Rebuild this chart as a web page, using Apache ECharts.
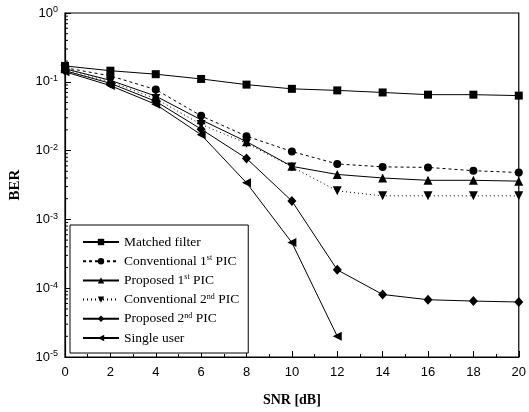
<!DOCTYPE html>
<html>
<head>
<meta charset="utf-8">
<script src="https://cdn.jsdelivr.net/npm/echarts@6/dist/echarts.min.js"></script>
<style>
  html, body { margin: 0; padding: 0; background: #fff; }
  #chart { width: 529px; height: 412px; }
</style>
</head>
<body>
<div id="chart"></div>
<script>
// SNR points (dB)
const snr = [0, 2, 4, 6, 8, 10, 12, 14, 16, 18, 20]

// BER
const matchedFilter = [0.17, 0.145, 0.129, 0.11, 0.091, 0.079, 0.075, 0.070, 0.065, 0.065, 0.063]
const conv1st = [0.16, 0.122, 0.077, 0.032, 0.0162, 0.0097, 0.0064, 0.0058, 0.0057, 0.0051, 0.0048]
const prop1st = [0.155, 0.105, 0.062, 0.028, 0.0135, 0.0059, 0.0045, 0.0040, 0.0037, 0.0037, 0.0036]
const conv2nd = [0.15, 0.10, 0.057, 0.024, 0.0128, 0.0058, 0.0026, 0.0022, 0.0022, 0.0022, 0.0022]
const prop2nd = [0.145, 0.095, 0.052, 0.0205, 0.0077, 0.00185, 0.000185, 0.000081, 0.000068, 0.000065, 0.000063]
const singleUser = [0.14, 0.088, 0.047, 0.017, 0.0034, 0.00046, 0.00002]

const names = [
  'Matched filter',
  'Conventional 1st PIC',
  'Proposed 1st PIC',
  'Conventional 2nd PIC',
  'Proposed 2nd PIC',
  'Single user'
]

// log minor ticks: 2..9 x 10^n
const decades = [-5, -4, -3, -2, -1]
const minorMul = [2, 3, 4, 5, 6, 7, 8, 9]

const pairs = arr => arr.map((v, i) => [snr[i], v])

const minorTicks = []
decades.forEach(d => minorMul.forEach(m => minorTicks.push(m * Math.pow(10, d))))

const serif = 'Liberation Serif'
const sans = 'Liberation Sans'

function legendName(name) {
  return name.replace(/1st/, '1{sup|st}').replace(/2nd/, '2{sup|nd}')
}

const lineBase = { color: '#000', width: 1 }

const option = {
  animation: false,
  backgroundColor: '#fff',
  grid: {
    left: 63, right: 8, top: 13, bottom: 53,
    show: true, borderColor: '#000', borderWidth: 1.2
  },
  legend: {
    orient: 'vertical',
    left: 70, top: 225,
    padding: [10, 9, 8, 12],
    itemGap: 5.2,
    itemWidth: 36,
    itemHeight: 8,
    backgroundColor: '#fff',
    borderColor: '#000',
    borderWidth: 1,
    borderRadius: 0,
    data: names,
    formatter: legendName,
    textStyle: {
      fontFamily: serif, fontSize: 13.5, color: '#000', lineHeight: 14,
      rich: {
        sup: { fontFamily: serif, fontSize: 8, color: '#000', verticalAlign: 'top', padding: [0, 0, 6, 0] }
      }
    }
  },
  xAxis: {
    type: 'value',
    min: 0, max: 20, interval: 2,
    name: 'SNR [dB]',
    nameLocation: 'middle',
    nameGap: 36,
    nameTextStyle: { fontFamily: serif, fontWeight: 'bold', fontSize: 14, color: '#000' },
    axisLine: { lineStyle: { color: '#000', width: 1.2 } },
    axisTick: { inside: true, length: 6, lineStyle: { color: '#000' } },
    minorTick: { show: true, splitNumber: 2, length: 3, lineStyle: { color: '#000' } },
    axisLabel: { fontFamily: sans, fontSize: 13, color: '#000', margin: 9 },
    splitLine: { show: false }
  },
  yAxis: {
    type: 'log',
    logBase: 10,
    min: 1e-5, max: 1,
    name: 'BER',
    nameLocation: 'middle',
    nameGap: 42,
    nameRotate: 90,
    nameTextStyle: { fontFamily: serif, fontWeight: 'bold', fontSize: 15, color: '#000' },
    axisLine: { lineStyle: { color: '#000', width: 1.2 } },
    axisTick: { inside: true, length: 6, lineStyle: { color: '#000' } },
    axisLabel: {
      fontFamily: sans, fontSize: 13, color: '#000', margin: 7,
      formatter: v => '10{sup|' + Math.round(Math.log10(v)) + '}',
      rich: {
        sup: { fontFamily: sans, fontSize: 9, color: '#000', verticalAlign: 'top', padding: [0, 0, 6, 0] }
      }
    },
    splitLine: { show: false }
  },
  series: [
    {
      name: names[0], type: 'line', data: pairs(matchedFilter),
      symbol: 'rect', symbolSize: 8,
      lineStyle: lineBase, itemStyle: { color: '#000' }
    },
    {
      name: names[1], type: 'line', data: pairs(conv1st),
      symbol: 'circle', symbolSize: 8,
      lineStyle: Object.assign({}, lineBase, { type: [3, 3] }), itemStyle: { color: '#000' }
    },
    {
      name: names[2], type: 'line', data: pairs(prop1st),
      symbol: 'triangle', symbolSize: 9,
      lineStyle: lineBase, itemStyle: { color: '#000' }
    },
    {
      name: names[3], type: 'line', data: pairs(conv2nd),
      symbol: 'triangle', symbolSize: 9, symbolRotate: 180,
      lineStyle: Object.assign({}, lineBase, { type: [1, 3] }), itemStyle: { color: '#000' }
    },
    {
      name: names[4], type: 'line', data: pairs(prop2nd),
      symbol: 'diamond', symbolSize: [9, 10],
      lineStyle: lineBase, itemStyle: { color: '#000' }
    },
    {
      name: names[5], type: 'line', data: pairs(singleUser),
      symbol: 'triangle', symbolSize: 9, symbolRotate: 90,
      lineStyle: lineBase, itemStyle: { color: '#000' }
    },
    {
      // minor ticks of the log axis, placed via the axis scale
      type: 'custom',
      silent: true,
      data: minorTicks.map(v => [0, v]),
      renderItem: (params, api) => {
        const p = api.coord([0, api.value(1)])
        return {
          type: 'line',
          shape: { x1: p[0], y1: p[1], x2: p[0] + 3, y2: p[1] },
          style: { stroke: '#000', lineWidth: 1 }
        }
      },
      z: 1
    }
  ]
}

const chart = echarts.init(document.getElementById('chart'))
chart.setOption(option)
</script>
</body>
</html>
